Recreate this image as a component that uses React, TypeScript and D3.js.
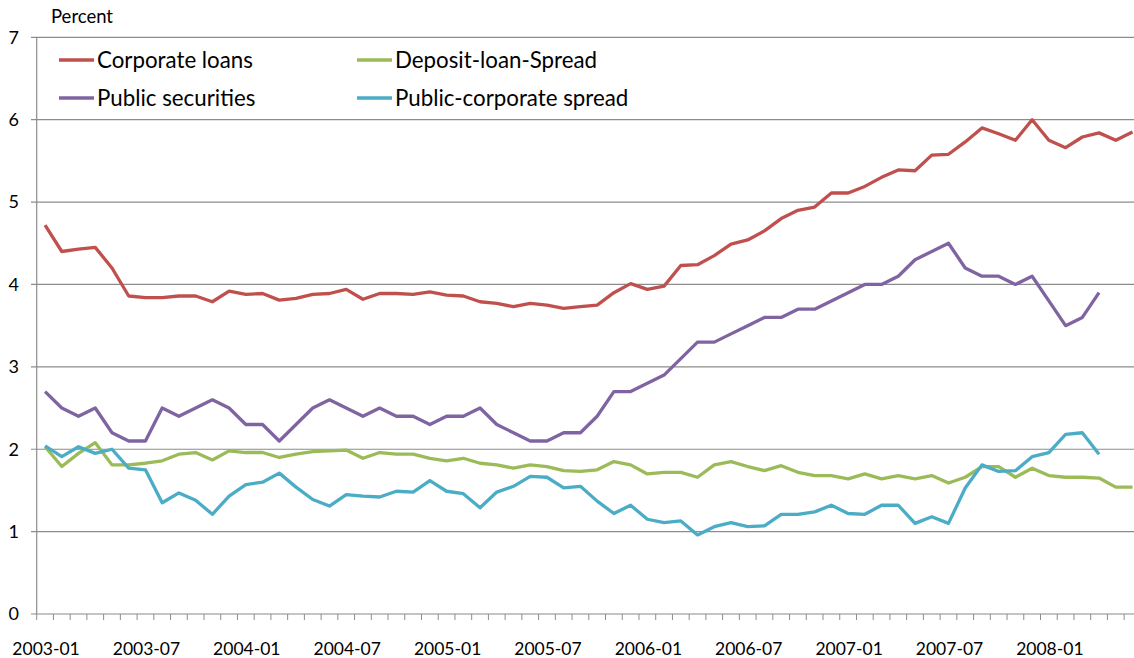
import React from "react";
import * as d3 from "d3";

const months: string[] = d3.timeMonths(new Date(2003, 0, 1), new Date(2008, 6, 1)).map(d3.timeFormat("%Y-%m"));

const corporateLoans = [4.72, 4.40, 4.43, 4.45, 4.20, 3.86, 3.84, 3.84, 3.86, 3.86,
  3.79, 3.92, 3.88, 3.89, 3.81, 3.83, 3.88, 3.89, 3.94, 3.82,
  3.89, 3.89, 3.88, 3.91, 3.87, 3.86, 3.79, 3.77, 3.73, 3.77,
  3.75, 3.71, 3.73, 3.75, 3.90, 4.01, 3.94, 3.98, 4.23, 4.24,
  4.35, 4.49, 4.54, 4.65, 4.80, 4.90, 4.94, 5.11, 5.11, 5.19,
  5.30, 5.39, 5.38, 5.57, 5.58, 5.73, 5.90, 5.83, 5.75, 6.00,
  5.75, 5.66, 5.79, 5.84, 5.75, 5.85];

const publicSecurities = [2.70, 2.50, 2.40, 2.50, 2.20, 2.10, 2.10, 2.50, 2.40, 2.50,
  2.60, 2.50, 2.30, 2.30, 2.10, 2.30, 2.50, 2.60, 2.50, 2.40,
  2.50, 2.40, 2.40, 2.30, 2.40, 2.40, 2.50, 2.30, 2.20, 2.10,
  2.10, 2.20, 2.20, 2.40, 2.70, 2.70, 2.80, 2.90, 3.10, 3.30,
  3.30, 3.40, 3.50, 3.60, 3.60, 3.70, 3.70, 3.80, 3.90, 4.00,
  4.00, 4.10, 4.30, 4.40, 4.50, 4.20, 4.10, 4.10, 4.00, 4.10,
  3.80, 3.50, 3.60, 3.90];

const depositLoanSpread = [2.03, 1.79, 1.95, 2.08, 1.81, 1.81, 1.83, 1.86, 1.94, 1.96,
  1.87, 1.98, 1.96, 1.96, 1.90, 1.94, 1.97, 1.98, 1.99, 1.89,
  1.96, 1.94, 1.94, 1.89, 1.86, 1.89, 1.83, 1.81, 1.77, 1.81,
  1.79, 1.74, 1.73, 1.75, 1.85, 1.81, 1.70, 1.72, 1.72, 1.66,
  1.81, 1.85, 1.79, 1.74, 1.80, 1.72, 1.68, 1.68, 1.64, 1.70,
  1.64, 1.68, 1.64, 1.68, 1.59, 1.66, 1.79, 1.79, 1.66, 1.77,
  1.68, 1.66, 1.66, 1.65, 1.54, 1.54];

const publicCorporateSpread = [2.04, 1.91, 2.03, 1.95, 2.00, 1.77, 1.75, 1.35, 1.47, 1.38,
  1.21, 1.43, 1.57, 1.60, 1.71, 1.54, 1.39, 1.31, 1.45, 1.43,
  1.42, 1.49, 1.48, 1.62, 1.49, 1.46, 1.29, 1.48, 1.55, 1.67,
  1.66, 1.53, 1.55, 1.37, 1.22, 1.32, 1.15, 1.11, 1.13, 0.96,
  1.06, 1.11, 1.06, 1.07, 1.21, 1.21, 1.24, 1.32, 1.22, 1.21,
  1.32, 1.32, 1.10, 1.18, 1.10, 1.53, 1.81, 1.73, 1.74, 1.91,
  1.96, 2.18, 2.20, 1.94];

const yTicks = [0, 1, 2, 3, 4, 5, 6, 7];

const series = [
  { name: "Corporate loans", values: corporateLoans, color: "#C0504D" },
  { name: "Public securities", values: publicSecurities, color: "#8064A2" },
  { name: "Deposit-loan-Spread", values: depositLoanSpread, color: "#9BBB59" },
  { name: "Public-corporate spread", values: publicCorporateSpread, color: "#4BACC6" },
];

const W = 1134, H = 658;
const FONT = "Lato, 'Open Sans', sans-serif";

export default function App() {
  const x = d3.scaleBand<string>().domain(months).range([36.7, 36.7 + 66 * 16.73]).padding(0);
  const y = d3.scaleLinear().domain([0, 7]).range([614, 37.3]);
  const bw = x.bandwidth();
  const cx = (i: number) => (x(months[i]) as number) + bw / 2;
  const line = d3.line<number>().x((_, i) => cx(i)).y((v) => y(v));
  const x0 = x.range()[0];
  const grid = "#8c8c8c";

  const legend = [
    { s: series[0], lx: 59, ly: 60 },
    { s: series[1], lx: 59, ly: 98 },
    { s: series[2], lx: 357, ly: 60 },
    { s: series[3], lx: 357, ly: 98 },
  ];

  return (
    <svg width={W} height={H} style={{ position: "absolute", left: 0, top: 0, background: "#fff" }} fontFamily={FONT}>
      {yTicks.map((t) => (
        <g key={t}>
          <line x1={31} x2={W} y1={y(t)} y2={y(t)} stroke={grid} strokeWidth={1.2} />
          <text x={19} y={y(t)} dy="0.35em" textAnchor="end" fontSize={18} fill="#000">{t}</text>
        </g>
      ))}
      <line x1={x0} x2={x0} y1={y(7)} y2={y(0)} stroke={grid} strokeWidth={1.2} />
      {d3.range(months.length + 1).map((k) => (
        <line key={k} x1={x0 + k * bw} x2={x0 + k * bw} y1={y(0)} y2={y(0) + 6} stroke={grid} strokeWidth={1} />
      ))}
      {months.map((m, i) => (i % 6 === 0 ? (
        <text key={m} x={cx(i) + 1} y={655} textAnchor="middle" fontSize={17.5} fill="#000">{m}</text>
      ) : null))}
      <text x={51} y={23} fontSize={18.5} fill="#000">Percent</text>
      {series.map((s) => (
        <path key={s.name} d={line(s.values) || ""} fill="none" stroke={s.color} strokeWidth={3.3} strokeLinejoin="round" />
      ))}
      {legend.map(({ s, lx, ly }) => (
        <g key={s.name}>
          <line x1={lx} x2={lx + 35} y1={ly} y2={ly} stroke={s.color} strokeWidth={3.3} />
          <text x={lx + 38} y={ly} dy="0.35em" fontSize={22.3} fill="#000">{s.name}</text>
        </g>
      ))}
    </svg>
  );
}
